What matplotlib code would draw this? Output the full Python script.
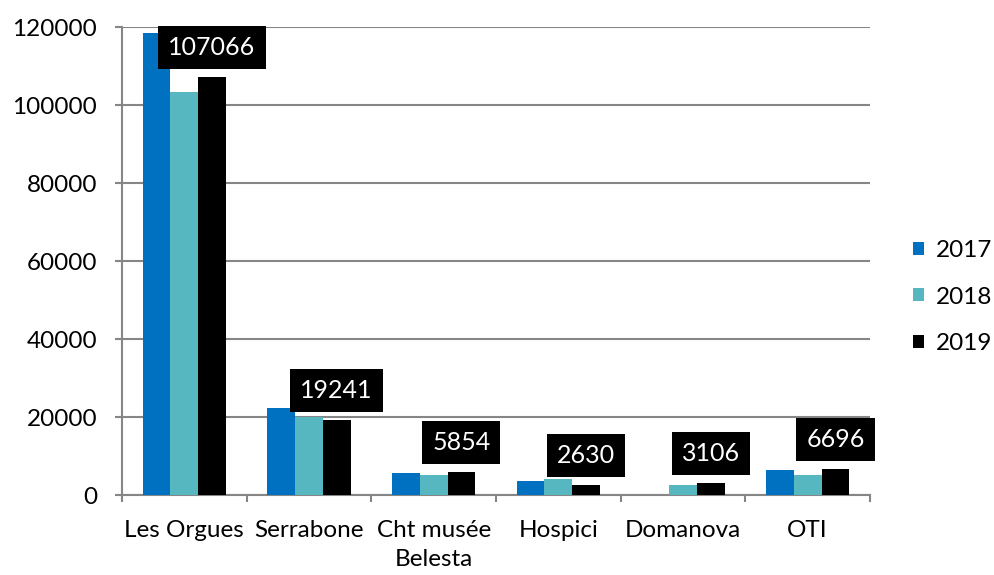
import matplotlib.pyplot as plt
import numpy as np

plt.rcParams['font.family'] = ['Lato', 'DejaVu Sans']

# Données
sites = ['Les Orgues', 'Serrabone', 'Cht musée\nBelesta', 'Hospici', 'Domanova', 'OTI']
v2017 = [118400, 22300, 5600, 3500, 0, 6400]
v2018 = [103300, 20000, 5100, 4200, 2600, 5050]
v2019 = [107066, 19241, 5854, 2630, 3106, 6696]
years = ['2017', '2018', '2019']
colors = ['#0070C0', '#57B7C0', '#000000']

fig = plt.figure(figsize=(9.94, 5.75), dpi=100)
ax = fig.add_axes([122 / 994, 80 / 575, 748 / 994, 468 / 575])

x = np.arange(len(sites))
w = 0.222
for i, (vals, lab, c) in enumerate(zip([v2017, v2018, v2019], years, colors)):
    ax.bar(x + (i - 1) * w, vals, w, color=c, label=lab, zorder=3)

# étiquettes 2019
for xi, v in zip(x, v2019):
    ax.annotate(str(v), (xi + w, v), xytext=(0, 13), textcoords='offset points',
                ha='center', va='bottom', fontsize=18, color='white', zorder=5,
                bbox=dict(boxstyle='square,pad=0.4', facecolor='black', edgecolor='none'))

ax.set_xlim(-0.5, len(sites) - 0.5)
ax.set_ylim(0, 120000)
ax.set_yticks(np.arange(0, 120001, 20000))
ax.set_xticks(x)
ax.set_xticklabels(sites, fontsize=17.5, linespacing=1.45)
ax.set_xticks(np.arange(-0.5, len(sites)), minor=True)
ax.tick_params(axis='x', which='major', length=0, pad=18)
ax.tick_params(axis='x', which='minor', length=5, color='#868686', width=1.5)
ax.tick_params(axis='y', length=5, color='#868686', width=1.5, labelsize=17.5, pad=13)
ax.yaxis.grid(True, color='#868686', linewidth=1.5, zorder=0)
ax.set_axisbelow(True)
for s in ['top', 'right']:
    ax.spines[s].set_visible(False)
for s in ['left', 'bottom']:
    ax.spines[s].set_color('#868686')
    ax.spines[s].set_linewidth(1.5)

ax.legend(loc='center left', bbox_to_anchor=(1.057, 0.423), frameon=False, fontsize=17.5,
          handlelength=0.45, handleheight=0.45, handletextpad=0.5, labelspacing=1.05,
          borderpad=0, borderaxespad=0)

fig.savefig('out.png', dpi=100)
